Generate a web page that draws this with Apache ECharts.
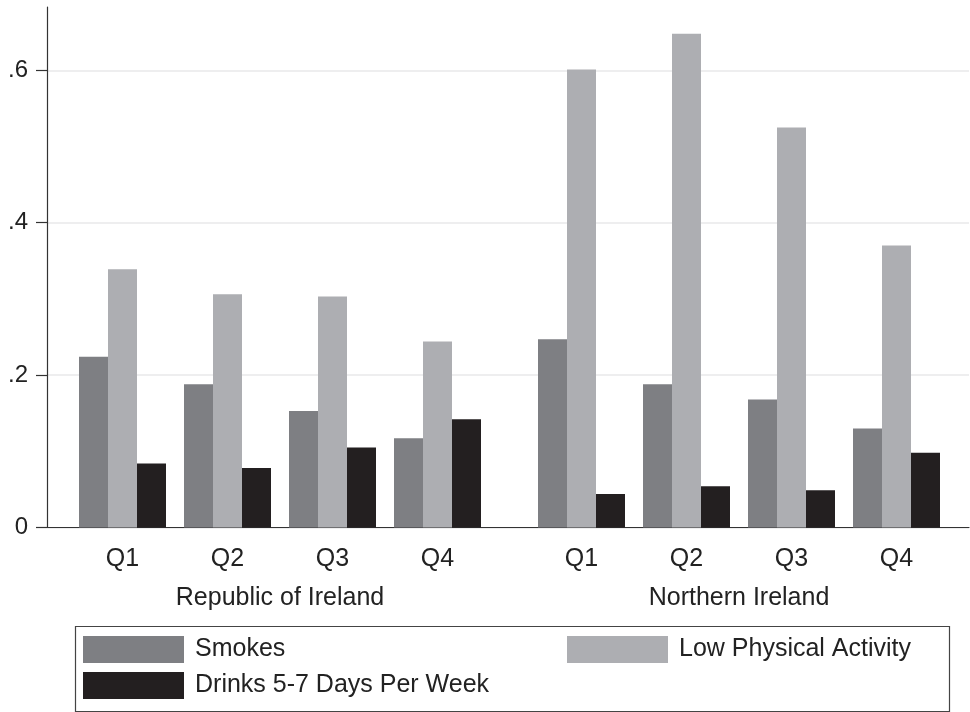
<!DOCTYPE html>
<html>
<head>
<meta charset="utf-8">
<script src="https://cdn.jsdelivr.net/npm/echarts@6/dist/echarts.min.js"></script>
<style>html,body{margin:0;padding:0;background:#fff}#c{width:970px;height:712px}</style>
</head>
<body>
<div id="c"></div>
<script>
// ---- data ----
const quarters = ['Q1', 'Q2', 'Q3', 'Q4'];
const regions = ['Republic of Ireland', 'Northern Ireland'];
const seriesNames = ['Smokes', 'Low Physical Activity', 'Drinks 5-7 Days Per Week'];
const smokesROI = [0.224, 0.188, 0.153, 0.117];
const lowActROI = [0.339, 0.306, 0.303, 0.244];
const drinksROI = [0.084, 0.078, 0.105, 0.142];
const smokesNI = [0.247, 0.188, 0.168, 0.130];
const lowActNI = [0.601, 0.648, 0.525, 0.370];
const drinksNI = [0.044, 0.054, 0.049, 0.098];
const yTicks = [0, 0.2, 0.4, 0.6];

const colors = ['#7e7f83', '#adaeb2', '#231f20'];
const FONT = 'Liberation Sans, Arial, Helvetica, sans-serif';
const FS = 25;
const yMax = 0.683;
const gTop = 7, gBottom = 184.5;

function fmt(v) {
  if (v === 0) return '0';
  return String(Math.round(v * 10) / 10).replace(/^0/, '');
}

const chart = echarts.init(document.getElementById('c'), null, {renderer: 'canvas'});

const regionData = [
  [smokesROI, lowActROI, drinksROI],
  [smokesNI, lowActNI, drinksNI]
];

const series = [];
regionData.forEach((vals, r) => {
  vals.forEach((arr, s) => {
    series.push({
      type: 'bar',
      name: seriesNames[s],
      xAxisIndex: r + 1,
      yAxisIndex: r + 1,
      data: arr,
      barWidth: 29,
      barGap: '0%',
      itemStyle: {color: colors[s]},
      emphasis: {disabled: true},
      animation: false
    });
  });
});

const catAxis = (gridIndex, name) => ({
  type: 'category',
  gridIndex: gridIndex,
  data: quarters,
  axisLine: {show: false},
  axisTick: {show: false},
  axisLabel: {margin: 19, fontFamily: FONT, fontSize: FS, color: '#222'},
  name: name,
  nameLocation: 'middle',
  nameGap: 58,
  nameTextStyle: {fontFamily: FONT, fontSize: FS, color: '#222'}
});

const hiddenY = (gridIndex) => ({
  type: 'value', gridIndex: gridIndex, min: 0, max: yMax,
  show: false, splitLine: {show: false}
});

const option = {
  backgroundColor: '#fff',
  animation: false,
  grid: [
    {left: 47, right: 1, top: gTop, bottom: gBottom},
    {left: 70, width: 420, top: gTop, bottom: gBottom},
    {left: 529, width: 420, top: gTop, bottom: gBottom}
  ],
  xAxis: [
    {type: 'value', gridIndex: 0, min: 0, max: 1,
      axisLine: {show: true, lineStyle: {color: '#333', width: 1.2}},
      axisTick: {show: false}, axisLabel: {show: false}, splitLine: {show: false}},
    catAxis(1, regions[0]),
    catAxis(2, regions[1])
  ],
  yAxis: [
    {type: 'value', gridIndex: 0, min: 0, max: yMax,
      axisLine: {show: true, lineStyle: {color: '#333', width: 1.2}},
      axisTick: {show: true, length: 11, customValues: yTicks, lineStyle: {color: '#333', width: 1.2}},
      axisLabel: {margin: 19, customValues: yTicks, formatter: fmt, fontFamily: FONT, fontSize: 24, color: '#222'},
      splitLine: {show: true, lineStyle: {color: '#e8e8ea', width: 1.5}}},
    hiddenY(1),
    hiddenY(2)
  ],
  legend: [
    {
      data: [seriesNames[0], seriesNames[2]],
      orient: 'vertical',
      left: 78, top: 631,
      icon: 'rect', itemWidth: 101, itemHeight: 27, itemGap: 9,
      selectedMode: false,
      textStyle: {fontFamily: FONT, fontSize: FS, color: '#222', padding: [0, 0, 0, 6]}
    },
    {
      data: [seriesNames[1]],
      orient: 'vertical',
      left: 562, top: 631,
      icon: 'rect', itemWidth: 101, itemHeight: 27, itemGap: 9,
      selectedMode: false,
      textStyle: {fontFamily: FONT, fontSize: FS, color: '#222', padding: [0, 0, 0, 6]}
    }
  ],
  graphic: [
    {type: 'rect', left: 73, top: 624, shape: {x: 0.5, y: 0.5, width: 874, height: 85},
      style: {fill: 'none', stroke: '#444', lineWidth: 1.2}, silent: true}
  ],
  series: series
};

chart.setOption(option);
</script>
</body>
</html>
